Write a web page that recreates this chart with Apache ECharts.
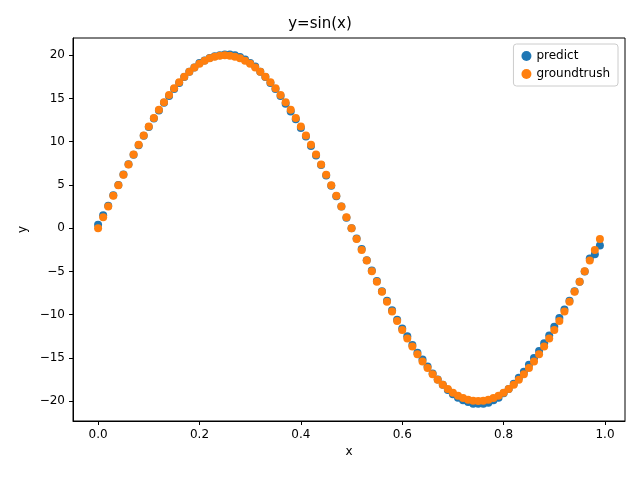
<!DOCTYPE html>
<html>
<head>
<meta charset="utf-8">
<script src="https://cdn.jsdelivr.net/npm/echarts@6/dist/echarts.min.js"></script>
</head>
<body style="margin:0">
<div id="main" style="width:640px;height:480px;"></div>
<script type="text/javascript">
// values
var xs = [];
for (var i = 0; i < 100; i++) xs.push(+(i / 100).toFixed(2));

var groundtruth = [0,1.26,2.51,3.75,4.97,6.18,7.36,8.52,9.64,10.72,11.76,12.75,13.69,14.58,15.41,16.18,16.89,17.53,18.10,18.60,19.02,19.37,19.65,19.84,19.96,
  20,19.96,19.84,19.65,19.37,19.02,18.60,18.10,17.53,16.89,16.18,15.41,14.58,13.69,12.75,11.76,10.72,9.64,8.52,7.36,6.18,4.97,3.75,2.51,1.26,
  0,-1.26,-2.51,-3.75,-4.97,-6.18,-7.36,-8.52,-9.64,-10.72,-11.76,-12.75,-13.69,-14.58,-15.41,-16.18,-16.89,-17.53,-18.10,-18.60,-19.02,-19.37,-19.65,-19.84,-19.96,
  -20,-19.96,-19.84,-19.65,-19.37,-19.02,-18.60,-18.10,-17.53,-16.89,-16.18,-15.41,-14.58,-13.69,-12.75,-11.76,-10.72,-9.64,-8.52,-7.36,-6.18,-4.97,-3.75,-2.51,-1.26];

var predict = [0.4,1.5,2.6,3.8,5.0,6.2,7.4,8.5,9.6,10.7,11.7,12.7,13.6,14.5,15.3,16.1,16.8,17.5,18.1,18.6,19.1,19.4,19.7,19.9,20.0,
  20.1,20.1,20.0,19.8,19.5,19.1,18.7,18.1,17.5,16.8,16.1,15.3,14.4,13.5,12.6,11.6,10.6,9.5,8.4,7.3,6.1,4.9,3.7,2.5,1.2,
  0,-1.2,-2.4,-3.7,-4.9,-6.1,-7.3,-8.4,-9.5,-10.6,-11.6,-12.5,-13.5,-14.4,-15.2,-16.0,-16.8,-17.5,-18.1,-18.7,-19.2,-19.6,-19.9,-20.1,-20.3,
  -20.3,-20.3,-20.2,-19.9,-19.6,-19.1,-18.6,-18.0,-17.3,-16.6,-15.8,-15.0,-14.2,-13.3,-12.4,-11.4,-10.4,-9.4,-8.4,-7.3,-6.2,-5.0,-3.5,-3.0,-2.0];

var xTicks = [0, 0.2, 0.4, 0.6, 0.8, 1.0];
var yTicks = [-20, -15, -10, -5, 0, 5, 10, 15, 20];

function pairs(ys) {
    var out = [];
    for (var i = 0; i < xs.length; i++) out.push([xs[i], ys[i]]);
    return out;
}

var myChart = echarts.init(document.getElementById('main'));
var txt = {color: '#000', fontSize: 12, fontFamily: 'DejaVu Sans'};
var option = {
    animation: false,
    title: {text: 'y=sin(x)', left: 'center', top: 12, textStyle: {fontSize: 15, fontWeight: 'normal', color: '#000', fontFamily: 'DejaVu Sans'}},
    legend: {
        right: 22, top: 44, orient: 'vertical', itemGap: 6,
        borderColor: '#ccc', borderWidth: 1, borderRadius: 3, padding: [6, 8],
        textStyle: txt, itemWidth: 10, itemHeight: 10,
        data: [{name: 'predict', icon: 'circle'}, {name: 'groundtrush', icon: 'circle'}]
    },
    grid: {left: 73, right: 15, top: 38, bottom: 59, show: true, borderColor: '#000', borderWidth: 1, backgroundColor: 'transparent'},
    xAxis: {
        type: 'value', min: -0.0495, max: 1.0395, name: 'x', nameLocation: 'middle', nameGap: 24, nameTextStyle: txt,
        axisLine: {onZero: false, lineStyle: {color: '#000'}},
        axisTick: {customValues: xTicks, length: 4, inside: false},
        axisLabel: {customValues: xTicks, formatter: function (v) { return v.toFixed(1); }, color: '#000', fontSize: 12, fontFamily: 'DejaVu Sans'},
        splitLine: {show: false}
    },
    yAxis: {
        type: 'value', min: -22.3, max: 22.0, name: 'y', nameLocation: 'middle', nameGap: 44, nameTextStyle: txt,
        axisLine: {show: true, onZero: false, lineStyle: {color: '#000'}},
        axisTick: {show: true, customValues: yTicks, length: 4},
        axisLabel: {customValues: yTicks, formatter: function (v) { return v < 0 ? '\u2212' + (-v) : '' + v; }, color: '#000', fontSize: 12, fontFamily: 'DejaVu Sans'},
        splitLine: {show: false}
    },
    series: [
        {name: 'predict', type: 'scatter', symbolSize: 8, itemStyle: {color: '#1f77b4', opacity: 1}, data: pairs(predict)},
        {name: 'groundtrush', type: 'scatter', symbolSize: 8, itemStyle: {color: '#ff7f0e', opacity: 1}, data: pairs(groundtruth)}
    ]
};
myChart.setOption(option);
</script>
</body>
</html>
